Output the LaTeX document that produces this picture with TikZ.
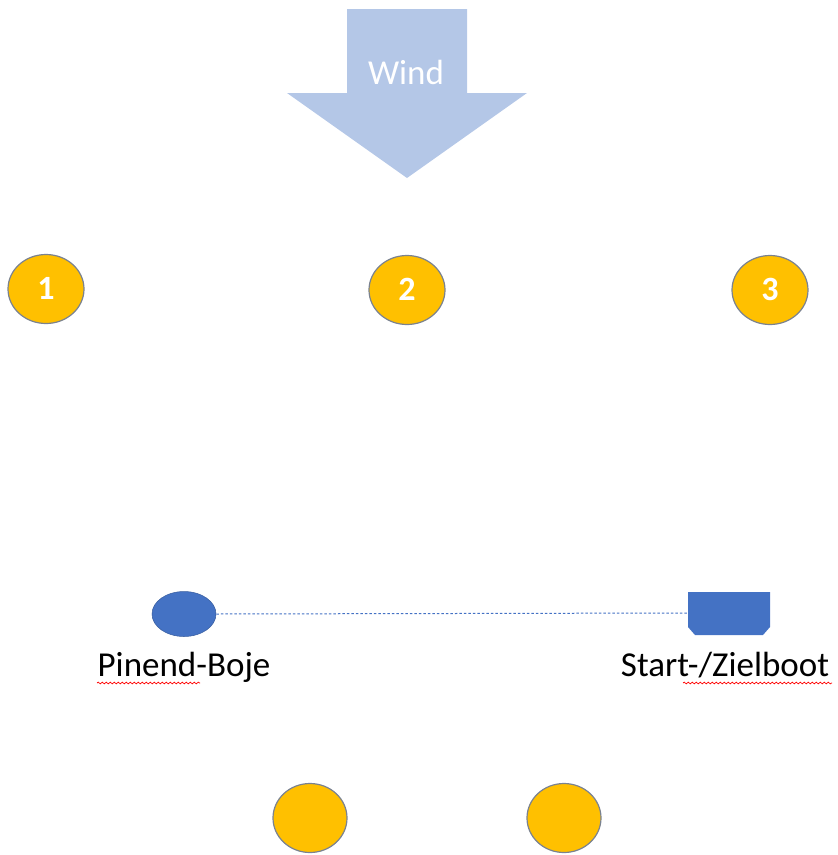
\documentclass[tikz,border=0pt]{standalone}
\usepackage{fontspec}
\setmainfont{Carlito}
\usetikzlibrary{decorations.pathmorphing,shapes.geometric}
\definecolor{buoy}{HTML}{FFC000}
\definecolor{buoyline}{HTML}{7A8290}
\definecolor{windblue}{HTML}{B4C7E7}
\definecolor{boatblue}{HTML}{4472C4}
\tikzset{
  mark buoy/.style={ellipse, draw=buoyline, line width=1.2pt, fill=buoy, minimum width=76pt, minimum height=69pt, inner sep=0pt},
  buoynum/.style={text=white, font=\fontsize{34}{36}\selectfont\bfseries, anchor=base},
  lbl/.style={font=\fontsize{35}{38}\selectfont, anchor=base, inner sep=0pt},
  squiggle/.style={draw=red, line width=0.7pt, decorate, decoration={snake, amplitude=0.9pt, segment length=4pt}}
}
\begin{document}
\begin{tikzpicture}[x=1pt,y=-1pt]
\useasboundingbox (0,0) rectangle (838,855);
% wind arrow
\fill[windblue] (347,9) -- (467,9) -- (467,93) -- (527,93) -- (407,178) -- (287,93) -- (347,93) -- cycle;
\node[text=white, font=\fontsize{35}{38}\selectfont, anchor=base] (wind) at (406,84) {Wind};
% marks
\node[mark buoy] (m1) at (46,289) {};
\node[mark buoy] (m2) at (407,290) {};
\node[mark buoy] (m3) at (770,290) {};
\node[buoynum] at (46,299) {1};
\node[buoynum] at (407,300) {2};
\node[buoynum] at (770,300) {3};
% pin end buoy
\node[ellipse, fill=boatblue, draw=boatblue!80!black, line width=0.5pt, minimum width=64pt, minimum height=45pt, inner sep=0pt] (pin) at (184,614) {};
% committee boat
\fill[boatblue] (688,592) -- (770,592) -- (770,627) -- (763,635) -- (695,635) -- (688,627) -- cycle;
\coordinate (boat) at (688,613);
\draw[boatblue, line width=1pt, dash pattern=on 2.5pt off 2pt] (pin.east) -- (boat);
% labels
\node[lbl] (pinlbl) at (184,676) {Pinend-Boje};
\node[lbl] (boatlbl) at (725,676) {Start-/Zielboot};
\draw[squiggle] (97,683) -- (200,683);
\draw[squiggle] (683,683) -- (832,683);
% gate marks
\node[mark buoy, minimum width=74pt] (g1) at (310,818) {};
\node[mark buoy, minimum width=74pt] (g2) at (564,818) {};
\end{tikzpicture}
\end{document}
